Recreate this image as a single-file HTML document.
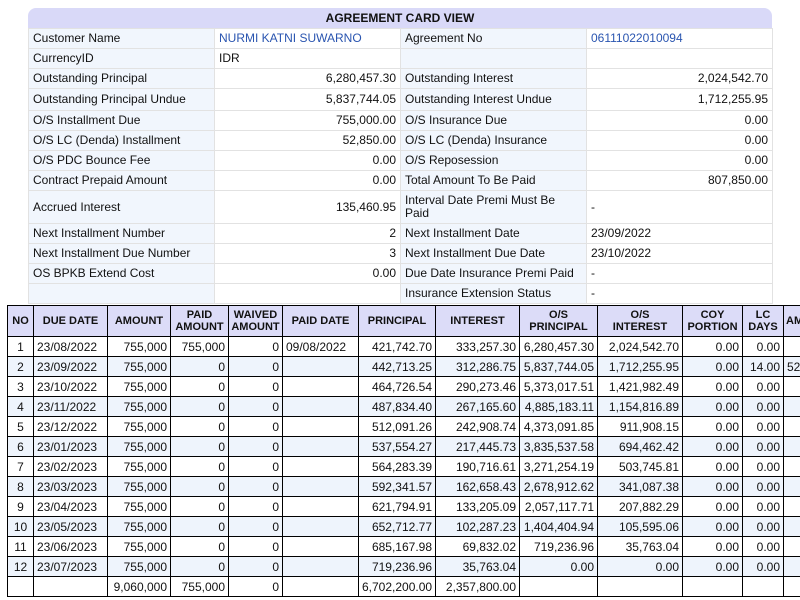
<!DOCTYPE html>
<html><head><meta charset="utf-8">
<style>
html,body{margin:0;padding:0;width:800px;height:600px;overflow:hidden;background:#fff;font-family:"Liberation Sans",sans-serif;font-size:12px;color:#111;}
#card{position:absolute;left:28px;top:8px;width:744px;}
#card .hdr{height:20px;background:#d9d9f8;border-radius:8px 8px 0 0;text-align:center;font-weight:bold;line-height:21px;font-size:12px;}
#card table{border-collapse:collapse;width:744px;table-layout:fixed;}
#card td{border:1px solid #e2e2e2;padding:0 4px;height:19px;line-height:13px;}
#card td.l{background:#f1f6fd;}
#card td.v{background:#fff;}
#card td.r{text-align:right;}
.blue{color:#2a55b0;}
#sched{position:absolute;left:7px;top:305px;border-collapse:collapse;table-layout:fixed;width:856px;}
#sched th{background:#dcdcf8;border:1px solid #000;font-size:11px;font-weight:bold;line-height:12px;height:30px;padding:0 2px;text-align:center;}
#sched td{border:1px solid #000;height:19px;padding:0 3px;text-align:right;white-space:nowrap;}
#sched tr.e td{background:#eef4fc;}
#sched td.c{text-align:center;}
#sched td.dl{text-align:left;}
</style></head><body>
<div id="card">
<div class="hdr">AGREEMENT CARD VIEW</div>
<table>
<colgroup><col style="width:186px"><col style="width:186px"><col style="width:186px"><col style="width:186px"></colgroup>
<tr><td class="l">Customer Name</td><td class="v blue">NURMI KATNI SUWARNO</td><td class="l">Agreement No</td><td class="v blue">06111022010094</td></tr>
<tr><td class="l">CurrencyID</td><td class="v">IDR</td><td class="l"></td><td class="v"></td></tr>
<tr><td class="l">Outstanding Principal</td><td class="v r">6,280,457.30</td><td class="l">Outstanding Interest</td><td class="v r">2,024,542.70</td></tr>
<tr style="height:22px"><td class="l">Outstanding Principal Undue</td><td class="v r">5,837,744.05</td><td class="l">Outstanding Interest Undue</td><td class="v r">1,712,255.95</td></tr>
<tr><td class="l">O/S Installment Due</td><td class="v r">755,000.00</td><td class="l">O/S Insurance Due</td><td class="v r">0.00</td></tr>
<tr><td class="l">O/S LC (Denda) Installment</td><td class="v r">52,850.00</td><td class="l">O/S LC (Denda) Insurance</td><td class="v r">0.00</td></tr>
<tr><td class="l">O/S PDC Bounce Fee</td><td class="v r">0.00</td><td class="l">O/S Reposession</td><td class="v r">0.00</td></tr>
<tr><td class="l">Contract Prepaid Amount</td><td class="v r">0.00</td><td class="l">Total Amount To Be Paid</td><td class="v r">807,850.00</td></tr>
<tr style="height:33px"><td class="l">Accrued Interest</td><td class="v r">135,460.95</td><td class="l">Interval Date Premi Must Be Paid</td><td class="v">-</td></tr>
<tr><td class="l">Next Installment Number</td><td class="v r">2</td><td class="l">Next Installment Date</td><td class="v">23/09/2022</td></tr>
<tr><td class="l">Next Installment Due Number</td><td class="v r">3</td><td class="l">Next Installment Due Date</td><td class="v">23/10/2022</td></tr>
<tr><td class="l">OS BPKB Extend Cost</td><td class="v r">0.00</td><td class="l">Due Date Insurance Premi Paid</td><td class="v">-</td></tr>
<tr><td class="l"></td><td class="v"></td><td class="l">Insurance Extension Status</td><td class="v">-</td></tr>
</table>
</div>
<table id="sched">
<colgroup><col style="width:26px"><col style="width:74px"><col style="width:63px"><col style="width:58px"><col style="width:54px"><col style="width:76px"><col style="width:77px"><col style="width:84px"><col style="width:78px"><col style="width:85px"><col style="width:60px"><col style="width:41px"><col style="width:80px"></colgroup>
<thead><tr><th>NO</th><th>DUE DATE</th><th>AMOUNT</th><th>PAID<br>AMOUNT</th><th>WAIVED<br>AMOUNT</th><th>PAID DATE</th><th>PRINCIPAL</th><th>INTEREST</th><th>O/S<br>PRINCIPAL</th><th>O/S<br>INTEREST</th><th>COY<br>PORTION</th><th>LC<br>DAYS</th><th style="text-align:left">AMOUNT</th></tr></thead>
<tbody id="tb"></tbody>
</table>
<script>
const nos=[1,2,3,4,5,6,7,8,9,10,11,12];
const dueDates=["23/08/2022","23/09/2022","23/10/2022","23/11/2022","23/12/2022","23/01/2023","23/02/2023","23/03/2023","23/04/2023","23/05/2023","23/06/2023","23/07/2023"];
const paidAmt=["755,000","0","0","0","0","0","0","0","0","0","0","0"];
const paidDate=["09/08/2022","","","","","","","","","","",""];
const principal=["421,742.70","442,713.25","464,726.54","487,834.40","512,091.26","537,554.27","564,283.39","592,341.57","621,794.91","652,712.77","685,167.98","719,236.96"];
const interest=["333,257.30","312,286.75","290,273.46","267,165.60","242,908.74","217,445.73","190,716.61","162,658.43","133,205.09","102,287.23","69,832.02","35,763.04"];
const osPrincipal=["6,280,457.30","5,837,744.05","5,373,017.51","4,885,183.11","4,373,091.85","3,835,537.58","3,271,254.19","2,678,912.62","2,057,117.71","1,404,404.94","719,236.96","0.00"];
const osInterest=["2,024,542.70","1,712,255.95","1,421,982.49","1,154,816.89","911,908.15","694,462.42","503,745.81","341,087.38","207,882.29","105,595.06","35,763.04","0.00"];
const lcDays=["0.00","14.00","0.00","0.00","0.00","0.00","0.00","0.00","0.00","0.00","0.00","0.00"];
const lcAmt=["","52,850","","","","","","","","","",""];
const tb=document.getElementById('tb');
nos.forEach((n,i)=>{
  const tr=document.createElement('tr');
  
  
  if(i%2===1)tr.className='e';
  const cells=[[n,'c'],[dueDates[i],'dl'],['755,000',''],[paidAmt[i],''],['0',''],[paidDate[i],'dl'],[principal[i],''],[interest[i],''],[osPrincipal[i],''],[osInterest[i],''],['0.00',''],[lcDays[i],''],[lcAmt[i],'dl']];
  cells.forEach(c=>{const td=document.createElement('td');td.textContent=c[0];if(c[1])td.className=c[1];tr.appendChild(td);});
  tb.appendChild(tr);
});
const tot=document.createElement('tr');


["","","9,060,000","755,000","0","","6,702,200.00","2,357,800.00","","","","",""].forEach(v=>{const td=document.createElement('td');td.textContent=v;tot.appendChild(td);});
tb.appendChild(tot);
</script>
</body></html>
